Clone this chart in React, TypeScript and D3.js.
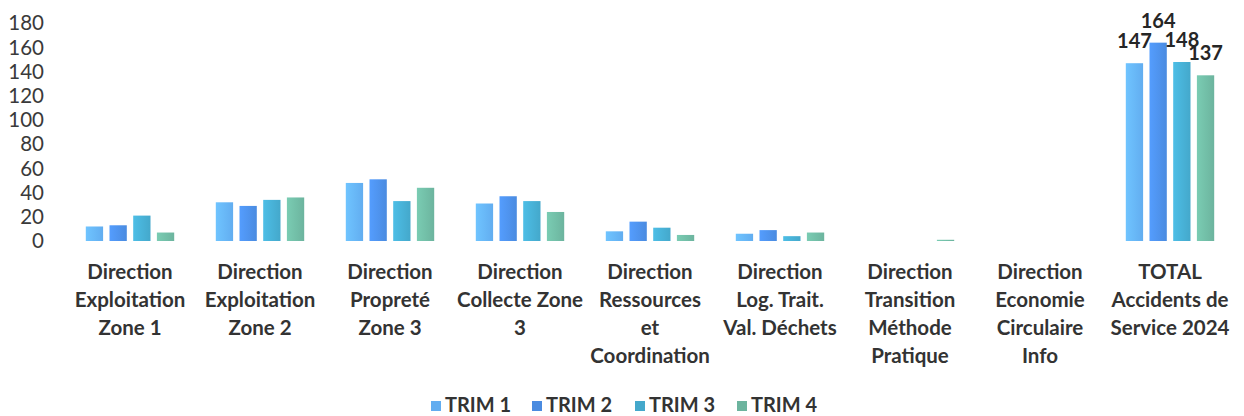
import React from 'react';
import * as d3 from 'd3';

const categories = [
  ['Direction', 'Exploitation', 'Zone 1'],
  ['Direction', 'Exploitation', 'Zone 2'],
  ['Direction', 'Propreté', 'Zone 3'],
  ['Direction', 'Collecte Zone', '3'],
  ['Direction', 'Ressources', 'et', 'Coordination'],
  ['Direction', 'Log. Trait.', 'Val. Déchets'],
  ['Direction', 'Transition', 'Méthode', 'Pratique'],
  ['Direction', 'Economie', 'Circulaire', 'Info'],
  ['TOTAL', 'Accidents de', 'Service 2024'],
];

const seriesNames = ['TRIM 1', 'TRIM 2', 'TRIM 3', 'TRIM 4'];
const seriesColors = ['#62adf0', '#4a8be0', '#44a8cb', '#6cb49e'];

const trim1 = [12, 32, 48, 31, 8, 6, 0, 0, 147];
const trim2 = [13, 29, 51, 37, 16, 9, 0, 0, 164];
const trim3 = [21, 34, 33, 33, 11, 4, 0, 0, 148];
const trim4 = [7, 36, 44, 24, 5, 7, 1, 0, 137];
const series = [trim1, trim2, trim3, trim4];

const yTicks = [0, 20, 40, 60, 80, 100, 120, 140, 160, 180];
const labelledGroup = 8;

const W = 1244;
const H = 416;
const font = 'Lato, "Noto Sans", sans-serif';

const App: React.FC = () => {
  const x0 = d3.scaleBand<number>()
    .domain(d3.range(categories.length))
    .range([65, 1235])
    .paddingInner(0.32)
    .paddingOuter(0.16);

  const x1 = d3.scaleBand<number>()
    .domain(d3.range(series.length))
    .range([0, x0.bandwidth()])
    .paddingInner(0.27);

  const y = d3.scaleLinear().domain([0, 180]).range([241, 23.3]);

  const legendX = [431, 532, 635, 737];

  return (
    <svg
      width={W}
      height={H}
      style={{ position: 'absolute', left: 0, top: 0, background: '#fff' }}
    >
      <defs>
        {seriesColors.map((c, i) => (
          <linearGradient key={i} id={`g${i}`} x1="0" x2="1" y1="0" y2="0">
            <stop offset="0%" stopColor={d3.color(c)!.brighter(0.35).formatHex()} />
            <stop offset="100%" stopColor={c} />
          </linearGradient>
        ))}
      </defs>

      {/* y axis labels */}
      <g fontFamily={font} fontSize={20.5} fill="#3a3a3a" textAnchor="end">
        {yTicks.map(t => (
          <text key={t} x={44} y={y(t)} dy="0.35em">{t}</text>
        ))}
      </g>

      {/* bars */}
      {categories.map((_, ci) => (
        <g key={ci} transform={`translate(${x0(ci)},0)`}>
          {series.map((s, si) => (
            s[ci] > 0 ? (
              <rect
                key={si}
                x={x1(si)}
                y={y(s[ci])}
                width={x1.bandwidth()}
                height={y(0) - y(s[ci])}
                fill={`url(#g${si})`}
              />
            ) : null
          ))}
          {ci === labelledGroup && series.map((s, si) => (
            <text
              key={`l${si}`}
              x={x1(si)! + x1.bandwidth() / 2}
              y={y(s[ci]) - 15}
              textAnchor="middle"
              fontFamily={font}
              fontWeight="bold"
              fontSize={20}
              fill="#262626"
            >
              {s[ci]}
            </text>
          ))}
        </g>
      ))}

      {/* category labels */}
      <g fontFamily={font} fontSize={20.5} fontWeight="bold" fill="#333" textAnchor="middle">
        {categories.map((lines, ci) => (
          <text key={ci} x={x0(ci)! + x0.bandwidth() / 2} y={279}>
            {lines.map((l, li) => (
              <tspan key={li} x={x0(ci)! + x0.bandwidth() / 2} dy={li === 0 ? 0 : 28}>{l}</tspan>
            ))}
          </text>
        ))}
      </g>

      {/* legend */}
      <g fontFamily={font} fontSize={20} fontWeight="bold" fill="#333">
        {seriesNames.map((n, i) => (
          <g key={n} transform={`translate(${legendX[i]},401)`}>
            <rect width={10} height={10} fill={seriesColors[i]} />
            <text x={14} y={11}>{n}</text>
          </g>
        ))}
      </g>
    </svg>
  );
};

export default App;
